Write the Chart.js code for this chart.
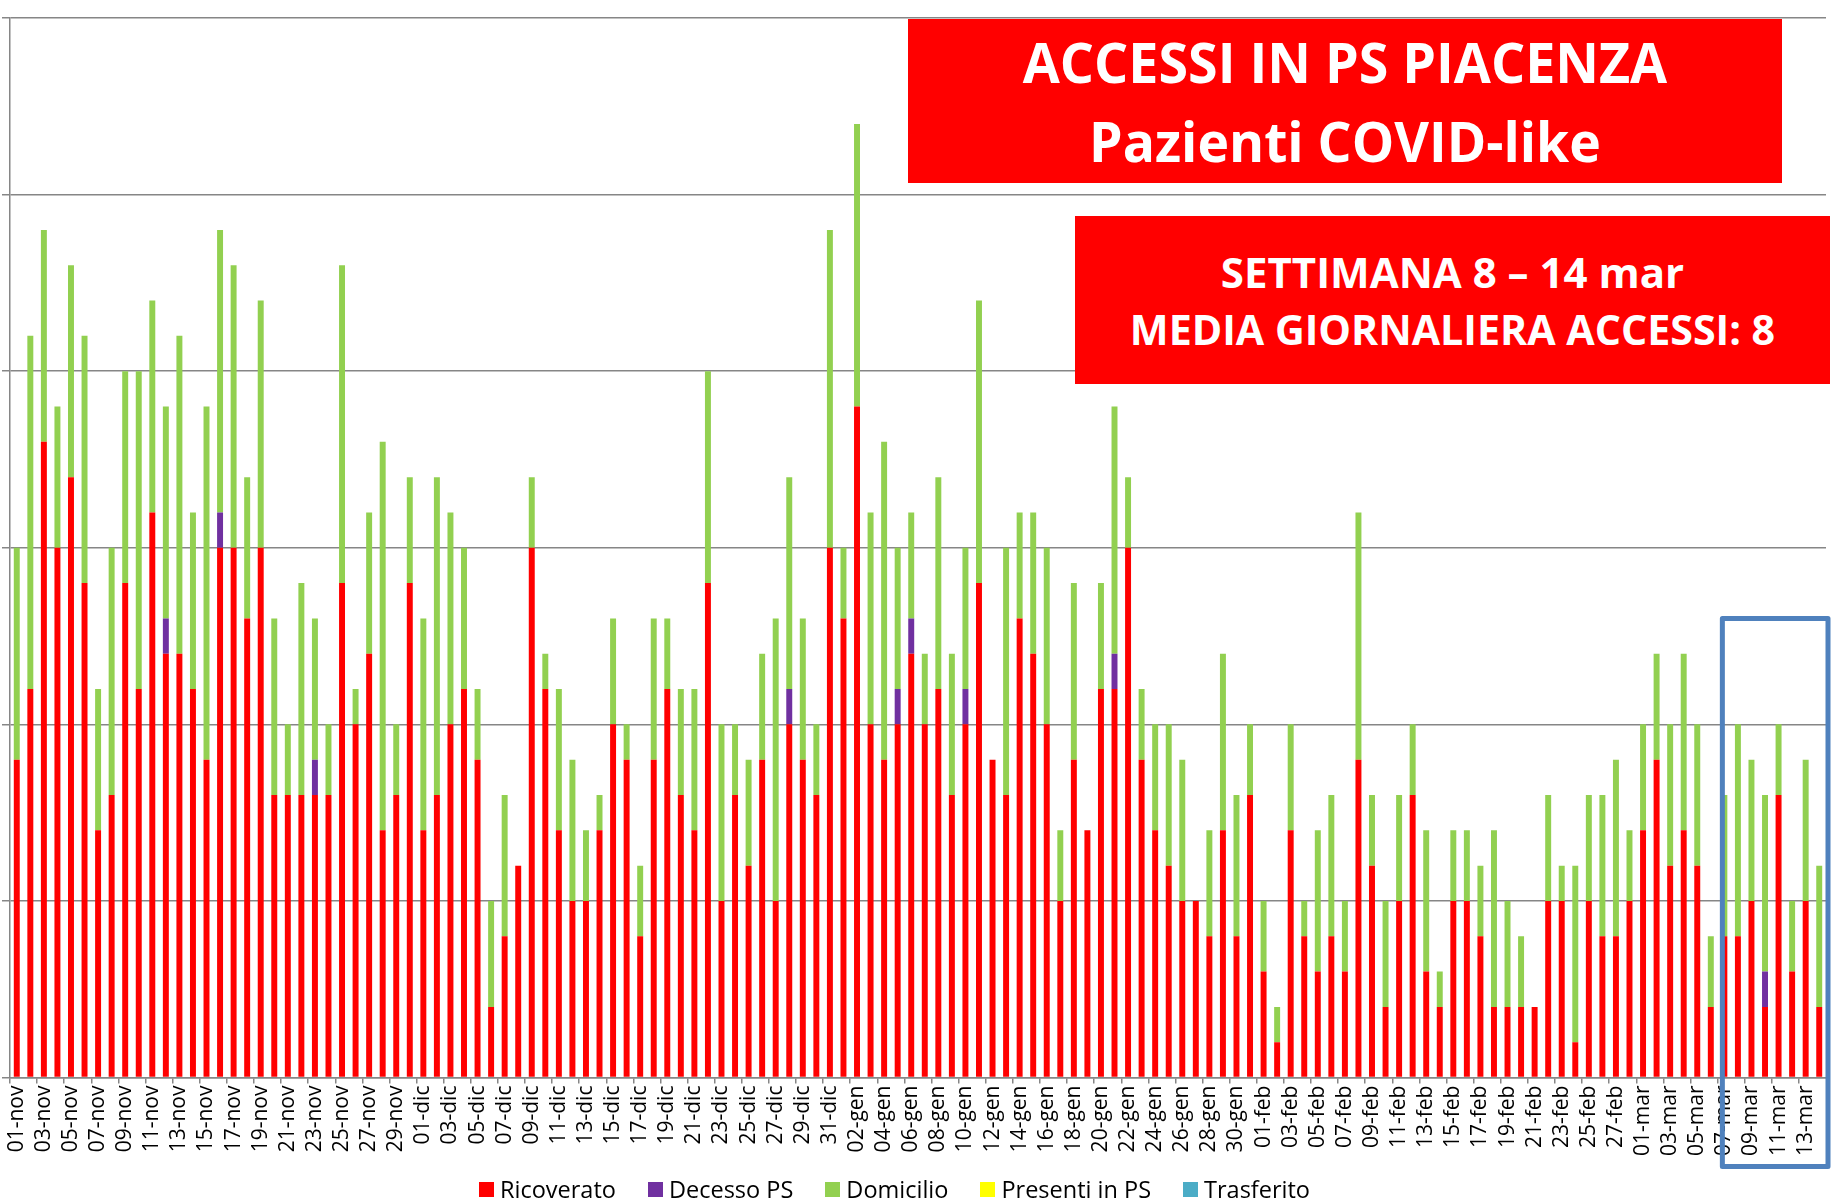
<!DOCTYPE html>
<html>
<head>
<meta charset="utf-8">
<script src="https://cdn.jsdelivr.net/npm/chart.js@4.4.1/dist/chart.umd.min.js"></script>
<style>
    body { margin: 0; background: #fff; }
    #wrap { position: relative; width: 1833px; height: 1200px; }
    .banner { position: absolute; background: #ff0000; }
    .banner div {
        position: absolute; left: 0; right: 0;
        text-align: center; color: #fff;
        font-family: 'Open Sans', sans-serif; font-weight: 700;
        line-height: 1; white-space: nowrap;
    }
    #legend {
        position: absolute; left: 479px; top: 1175px;
        display: flex; align-items: center; white-space: nowrap;
        font-family: 'Open Sans', sans-serif; font-size: 23.5px; line-height: 28px; color: #000;
    }
    #legend .item { display: flex; align-items: center; margin-right: 32px; }
    #legend .box { width: 15px; height: 15px; margin-right: 6px; }
</style>
</head>
<body>
<div id="wrap">
    <canvas id="accessi-chart" width="1833" height="1200"></canvas>
    <div class="banner" style="left:908px;top:19px;width:874px;height:164px;">
        <div style="top:14px;font-size:56px;transform:scaleX(0.96);">ACCESSI IN PS PIACENZA</div>
        <div style="top:93px;font-size:56px;transform:scaleX(0.955);">Pazienti COVID-like</div>
    </div>
    <div class="banner" style="left:1075px;top:216px;width:755px;height:168px;">
        <div style="top:35px;font-size:42px;">SETTIMANA 8 – 14 mar</div>
        <div style="top:92px;font-size:42px;transform:scaleX(0.98);">MEDIA GIORNALIERA ACCESSI: 8</div>
    </div>
    <div id="legend"></div>
</div>
<script>
// months shown on the x axis and how many days of each
const months = [['nov', 30], ['dic', 31], ['gen', 31], ['feb', 28], ['mar', 14]];

const categories = [];
months.forEach(([name, days]) => {
    for (let d = 1; d <= days; d++) {
        categories.push(String(d).padStart(2, '0') + '-' + name);
    }
});

const ricoverato = [
    9, 11, 18, 15, 17, 14, 7, 8, 14, 11, 16, 12, 12, 11, 9, 15, 15, 13, 15, 8, 8, 8, 8, 8, 14, 10, 12, 7, 8, 14,
    7, 8, 10, 11, 9, 2, 4, 6, 15, 11, 7, 5, 5, 7, 10, 9, 4, 9, 11, 8, 7, 14, 5, 8, 6, 9, 5, 10, 9, 8, 15,
    13, 19, 10, 9, 10, 12, 10, 11, 8, 10, 14, 9, 8, 13, 12, 10, 5, 9, 7, 11, 11, 15, 9, 7, 6, 5, 5, 4, 7, 4, 8,
    3, 1, 7, 4, 3, 4, 3, 9, 6, 2, 5, 8, 3, 2, 5, 5, 4, 2, 2, 2, 2, 5, 5, 1, 5, 4, 4, 5,
    7, 9, 6, 7, 6, 2, 4, 4, 5, 2, 8, 3, 5, 2
];

const decessoPS = [
    0, 0, 0, 0, 0, 0, 0, 0, 0, 0, 0, 1, 0, 0, 0, 1, 0, 0, 0, 0, 0, 0, 1, 0, 0, 0, 0, 0, 0, 0,
    0, 0, 0, 0, 0, 0, 0, 0, 0, 0, 0, 0, 0, 0, 0, 0, 0, 0, 0, 0, 0, 0, 0, 0, 0, 0, 0, 1, 0, 0, 0,
    0, 0, 0, 0, 1, 1, 0, 0, 0, 1, 0, 0, 0, 0, 0, 0, 0, 0, 0, 0, 1, 0, 0, 0, 0, 0, 0, 0, 0, 0, 0,
    0, 0, 0, 0, 0, 0, 0, 0, 0, 0, 0, 0, 0, 0, 0, 0, 0, 0, 0, 0, 0, 0, 0, 0, 0, 0, 0, 0,
    0, 0, 0, 0, 0, 0, 0, 0, 0, 1, 0, 0, 0, 0
];

const domicilio = [
    6, 10, 6, 4, 6, 7, 4, 7, 6, 9, 6, 6, 9, 5, 10, 8, 8, 4, 7, 5, 2, 6, 4, 2, 9, 1, 4, 11, 2, 3,
    6, 9, 6, 4, 2, 3, 4, 0, 2, 1, 4, 4, 2, 1, 3, 1, 2, 4, 2, 3, 4, 6, 5, 2, 3, 3, 8, 6, 4, 2, 9,
    2, 8, 6, 9, 4, 3, 2, 6, 4, 4, 8, 0, 7, 3, 4, 5, 2, 5, 0, 3, 7, 2, 2, 3, 4, 4, 0, 3, 5, 4, 2,
    2, 1, 3, 1, 4, 4, 2, 7, 2, 3, 3, 2, 4, 1, 2, 2, 2, 5, 3, 2, 0, 3, 1, 5, 3, 4, 5, 2,
    3, 3, 4, 5, 4, 2, 4, 6, 4, 5, 2, 2, 4, 4
];

const presentiPS = categories.map(() => 0);
const trasferito = categories.map(() => 0);

// week highlighted by the blue frame
const weekStart = '07-mar';
const weekFrameTop = 13;

const gridGray = '#868686';

const weekBoxPlugin = {
    id: 'weekBox',
    afterDraw(chart) {
        const xScale = chart.scales.x;
        const yScale = chart.scales.y;
        const ctx = chart.ctx;
        const left = xScale.getPixelForValue(categories.indexOf(weekStart)) - 2;
        const right = chart.width - 5;
        const top = yScale.getPixelForValue(weekFrameTop);
        const bottom = chart.chartArea.bottom + 89;
        ctx.save();
        ctx.strokeStyle = '#4f81bd';
        ctx.lineWidth = 5;
        ctx.lineJoin = 'round';
        ctx.strokeRect(left, top, right - left, bottom - top);
        ctx.restore();
    }
};

function makeSet(label, data, color) {
    return {
        label,
        data,
        backgroundColor: color,
        borderWidth: 0,
        barPercentage: 0.44,
        categoryPercentage: 1.0
    };
}

function buildLegend(chart) {
    const legend = document.getElementById('legend');
    legend.innerHTML = '';
    chart.data.datasets.forEach(ds => {
        const item = document.createElement('span');
        item.className = 'item';
        const box = document.createElement('span');
        box.className = 'box';
        box.style.background = ds.backgroundColor;
        item.appendChild(box);
        item.appendChild(document.createTextNode(ds.label));
        legend.appendChild(item);
    });
}

const ctx = document.getElementById('accessi-chart').getContext('2d');

const accessiChart = new Chart(ctx, {
    type: 'bar',
    data: {
        labels: categories,
        datasets: [
            makeSet('Ricoverato', ricoverato, '#ff0000'),
            makeSet('Decesso PS', decessoPS, '#7030a0'),
            makeSet('Domicilio', domicilio, '#92d050'),
            makeSet('Presenti in PS', presentiPS, '#ffff00'),
            makeSet('Trasferito', trasferito, '#4bacc6')
        ]
    },
    options: {
        responsive: false,
        animation: false,
        layout: { padding: { top: 18, right: 7, left: 2, bottom: 42 } },
        scales: {
            x: {
                stacked: true,
                afterFit(scale) {
                    scale.paddingRight = 0;
                },
                grid: {
                    drawOnChartArea: false,
                    offset: true,
                    tickLength: 6,
                    lineWidth: 1.5,
                    color: (c) => c.index % 2 === 0 ? gridGray : 'rgba(0,0,0,0)'
                },
                border: { color: gridGray, width: 1.5 },
                ticks: {
                    autoSkip: false,
                    maxRotation: 90,
                    minRotation: 90,
                    padding: 2,
                    color: '#000',
                    font: { family: 'Open Sans', size: 21 },
                    callback: (value, index) => index % 2 === 0 ? categories[index] : ''
                }
            },
            y: {
                stacked: true,
                min: 0,
                max: 30,
                ticks: { display: false, stepSize: 5 },
                grid: { color: gridGray, lineWidth: 1.5, tickLength: 8 },
                border: { color: gridGray, width: 1.5 }
            }
        },
        plugins: {
            legend: { display: false },
            tooltip: { enabled: false }
        }
    },
    plugins: [weekBoxPlugin]
});

buildLegend(accessiChart);
</script>
</body>
</html>
